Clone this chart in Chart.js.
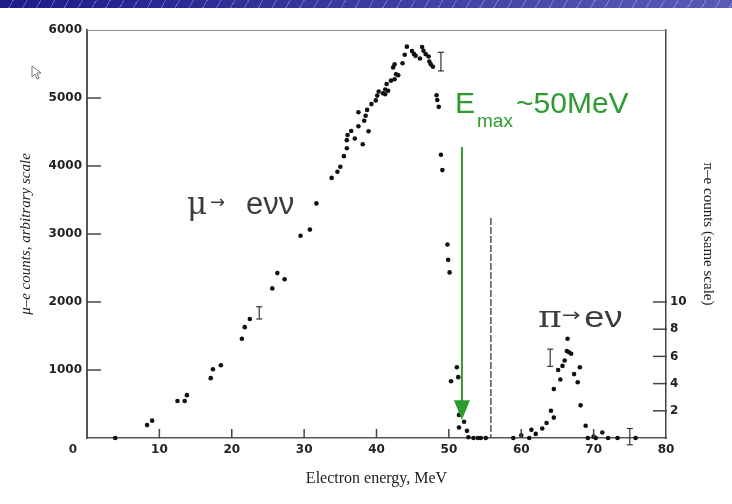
<!DOCTYPE html>
<html>
<head>
<meta charset="utf-8">
<script src="https://cdn.jsdelivr.net/npm/chart.js@4.4.1/dist/chart.umd.min.js"></script>
<style>
  html, body { margin: 0; padding: 0; background: #fff; }
  #wrap { position: relative; width: 732px; height: 504px; overflow: hidden; }
  #bar {
    position: absolute; left: 0; top: 0; width: 732px; height: 8px;
    background:
      repeating-linear-gradient(120deg, rgba(255,255,255,0) 0 11px, rgba(255,255,255,0.28) 11px 12px),
      linear-gradient(90deg, #1c1c8a, #5a5ab8);
  }
  #cursor { position: absolute; left: 31px; top: 65px; }
  canvas { position: absolute; left: 0; top: 0; }
</style>
</head>
<body>
<div id="wrap">
  <div id="bar"></div>
  <svg id="cursor" width="12" height="16"><polygon points="1,1 1,12 4,9 6,14 8,13 6,8 10,8" fill="#fff" stroke="#777" stroke-width="1"/></svg>
  <canvas id="chart" width="732" height="504"></canvas>
</div>
<script>
// mu -> e nu nu spectrum (left axis)
const muEnergy = [3.9, 8.3, 9.0, 12.5, 13.5, 13.8, 17.1, 17.4, 18.5, 21.4, 21.8, 22.5, 25.6, 26.3, 27.3,
  29.5, 30.8, 31.7, 33.8, 34.6, 35.0, 35.5, 35.9, 35.9, 36.0, 36.5, 37.0, 37.5, 37.5, 38.1, 38.3, 38.5,
  38.9, 38.7, 39.3, 39.9, 40.1, 40.3, 40.9, 41.2, 41.2, 41.6, 41.4, 42.0, 42.5, 42.7, 43.0, 42.3, 42.5,
  43.6, 43.9, 44.2, 44.9, 45.2, 45.4, 46.0, 46.3, 46.5, 46.8, 47.2, 47.3, 47.5, 47.8, 48.3, 48.4, 48.6,
  48.9, 49.1, 49.8, 49.9, 50.1, 50.3, 51.1, 51.3, 51.4, 52.1, 51.4, 52.5, 52.7, 53.4, 54.0, 54.4, 55.1];
const muCounts = [0, 190, 255, 545, 545, 630, 880, 1010, 1070, 1460, 1630, 1750, 2200, 2425, 2335,
  2975, 3065, 3450, 3825, 3915, 3990, 4145, 4260, 4380, 4455, 4515, 4405, 4585, 4790, 4320, 4665, 4740,
  4510, 4825, 4910, 4965, 5035, 5095, 5070, 5055, 5125, 5105, 5205, 5255, 5275, 5350, 5335, 5450, 5495,
  5510, 5635, 5755, 5690, 5645, 5620, 5580, 5750, 5695, 5645, 5610, 5535, 5495, 5460, 5040, 4970, 4870,
  4165, 3940, 2845, 2620, 2435, 835, 1040, 895, 340, 240, 155, 105, 10, 0, 0, 0, 0];

// pi -> e nu peak (right axis)
const piEnergy = [58.9, 60.0, 61.1, 61.4, 62.0, 62.9, 63.5, 64.1, 64.5, 64.5, 65.4, 65.1, 65.7, 66.0,
  66.3, 66.4, 66.6, 66.9, 67.3, 67.8, 68.1, 68.2, 68.9, 69.2, 70.0, 70.3, 71.2, 72.0, 73.3, 75.8];
const piCounts = [0, 0.2, 0, 0.6, 0.3, 0.7, 1.1, 2.0, 1.5, 3.6, 4.3, 5.0, 5.3, 5.7,
  6.4, 7.3, 6.3, 6.2, 4.7, 4.1, 5.2, 2.4, 0.9, 0, 0.1, 0, 0.4, 0, 0, 0];

// error bars
const errEnergy = [23.8, 48.9, 64.0, 75.0];
const errValue = [1840, 5535, 5.9, 0.1];
const errHalf = [90, 137, 0.63, 0.6];
const errAxis = ['y', 'y', 'y2', 'y2'];

const xTicks = [0, 10, 20, 30, 40, 50, 60, 70, 80];
const leftTicks = [1000, 2000, 3000, 4000, 5000, 6000];
const rightTicks = [2, 4, 6, 8, 10];

const GREEN = '#2f9a2f';
const tickFont = { family: 'DejaVu Sans', weight: 'bold', size: 12 };

function line(ctx, x1, y1, x2, y2) {
  ctx.beginPath(); ctx.moveTo(x1, y1); ctx.lineTo(x2, y2); ctx.stroke();
}

const decor = {
  id: 'decor',
  afterDraw(chart) {
    const { ctx, chartArea: a, scales: { x, y, y2 } } = chart;
    ctx.save();

    // top frame line
    ctx.strokeStyle = '#8c8c8c'; ctx.lineWidth = 1;
    line(ctx, a.left, a.top + 0.5, a.right, a.top + 0.5);

    // inward ticks
    ctx.strokeStyle = '#444'; ctx.lineWidth = 1.5;
    xTicks.slice(1, -1).forEach(v => {
      const px = x.getPixelForValue(v);
      line(ctx, px, a.bottom, px, a.bottom - 9);
    });
    leftTicks.slice(0, -1).forEach(v => {
      const py = y.getPixelForValue(v);
      line(ctx, a.left, py, a.left + 14, py);
    });
    rightTicks.forEach(v => {
      const py = y2.getPixelForValue(v);
      line(ctx, a.right - 13, py, a.right + 1, py);
    });

    // "0" label sits left of the corner
    ctx.fillStyle = '#2a2a2a';
    ctx.font = 'bold 12px "DejaVu Sans"';
    ctx.textAlign = 'center'; ctx.textBaseline = 'middle';
    ctx.fillText('0', a.left - 14, a.bottom + 12);

    // error bars
    ctx.strokeStyle = '#333'; ctx.lineWidth = 1.2;
    errEnergy.forEach((e, i) => {
      const s = chart.scales[errAxis[i]];
      const px = x.getPixelForValue(e);
      const top = s.getPixelForValue(errValue[i] + errHalf[i]);
      const bot = s.getPixelForValue(errValue[i] - errHalf[i]);
      line(ctx, px, top, px, bot);
      line(ctx, px - 3, top, px + 3, top);
      line(ctx, px - 3, bot, px + 3, bot);
    });

    // dashed separator
    ctx.strokeStyle = '#555'; ctx.lineWidth = 1.5;
    ctx.setLineDash([7, 2]);
    const dx = x.getPixelForValue(55.8);
    line(ctx, dx, y.getPixelForValue(3235), dx, a.bottom);
    ctx.setLineDash([]);

    // green arrow to E max
    const ax = x.getPixelForValue(51.8);
    const aTop = y.getPixelForValue(4280);
    const hTop = y.getPixelForValue(555);
    const tip = y.getPixelForValue(265);
    ctx.strokeStyle = GREEN; ctx.lineWidth = 2;
    line(ctx, ax, aTop, ax, hTop + 2);
    ctx.fillStyle = GREEN;
    ctx.beginPath();
    ctx.moveTo(ax - 8, hTop); ctx.lineTo(ax + 8, hTop); ctx.lineTo(ax, tip); ctx.closePath();
    ctx.fill();

    // annotations
    ctx.textAlign = 'left'; ctx.textBaseline = 'alphabetic';
    ctx.fillStyle = GREEN;
    ctx.font = '30px "Liberation Sans"';
    ctx.fillText('E', 455, 113);
    ctx.font = '19px "Liberation Sans"';
    ctx.fillText('max', 477, 127);
    ctx.font = '30px "Liberation Sans"';
    ctx.fillText('~50MeV', 516, 113);

    ctx.fillStyle = '#3c3c3c';
    ctx.font = '31px "DejaVu Serif"';
    ctx.fillText('\u03bc', 187, 214);
    ctx.font = '18px "DejaVu Sans"';
    ctx.fillText('\u2192', 210, 208);
    ctx.font = '31px "Liberation Sans"';
    ctx.fillText('e\u03bd\u03bd', 246, 214);

    ctx.save();
    ctx.translate(538, 327);
    ctx.scale(1.25, 1);
    ctx.font = '29px "DejaVu Serif"';
    ctx.fillText('\u03c0', 0, 0);
    ctx.font = '18px "DejaVu Sans"';
    ctx.fillText('\u2192', 19, -6);
    ctx.font = '29px "Liberation Sans"';
    ctx.fillText('e\u03bd', 37, 0);
    ctx.restore();

    ctx.restore();
  }
};

new Chart(document.getElementById('chart').getContext('2d'), {
  type: 'scatter',
  data: {
    datasets: [
      {
        label: 'mu',
        data: muEnergy.map((e, i) => ({ x: e, y: muCounts[i] })),
        yAxisID: 'y',
        backgroundColor: '#111', borderWidth: 0, pointRadius: 2.3, clip: false
      },
      {
        label: 'pi',
        data: piEnergy.map((e, i) => ({ x: e, y: piCounts[i] })),
        yAxisID: 'y2',
        backgroundColor: '#111', borderWidth: 0, pointRadius: 2.3, clip: false
      }
    ]
  },
  options: {
    responsive: false,
    animation: false,
    events: [],
    layout: { padding: { top: 30, left: 0, right: 0, bottom: 0 } },
    plugins: { legend: { display: false }, tooltip: { enabled: false } },
    scales: {
      x: {
        type: 'linear', min: 0, max: 80,
        afterBuildTicks: s => { s.ticks = xTicks.map(v => ({ value: v })); },
        afterFit: s => { s.height = 66; },
        grid: { display: false, drawTicks: false },
        border: { display: true, color: '#555', width: 1.5 },
        ticks: { padding: 5, color: '#222', font: tickFont, maxRotation: 0,
          callback: v => (v === 0 ? '' : String(v)) },
        title: { display: true, text: 'Electron energy, MeV', color: '#222',
          font: { family: 'Liberation Serif', size: 16 }, padding: { top: 0, bottom: 16 } }
      },
      y: {
        type: 'linear', position: 'left', min: 0, max: 6000,
        afterBuildTicks: s => { s.ticks = leftTicks.map(v => ({ value: v })); },
        afterFit: s => { s.width = 87; },
        grid: { display: false, drawTicks: false },
        border: { display: true, color: '#555', width: 2 },
        ticks: { padding: 5, color: '#222', font: tickFont, callback: v => String(v) },
        title: { display: true, text: '\u03bc\u2013e counts, arbitrary scale', color: '#222',
          font: { family: 'Liberation Serif', size: 15, style: 'italic' }, padding: { top: 17, bottom: 0 } }
      },
      y2: {
        type: 'linear', position: 'right', min: 0, max: 30,
        afterBuildTicks: s => { s.ticks = rightTicks.map(v => ({ value: v })); },
        afterFit: s => { s.width = 66; },
        grid: { display: false, drawTicks: false },
        border: { display: true, color: '#444', width: 1.5 },
        ticks: { padding: 4, color: '#222', font: tickFont, callback: v => String(v) },
        title: { display: true, text: '\u03c0\u2013e counts (same scale)', color: '#222',
          font: { family: 'Liberation Serif', size: 15 }, padding: { top: 15, bottom: 0 } }
      }
    }
  },
  plugins: [decor]
});
</script>
</body>
</html>
